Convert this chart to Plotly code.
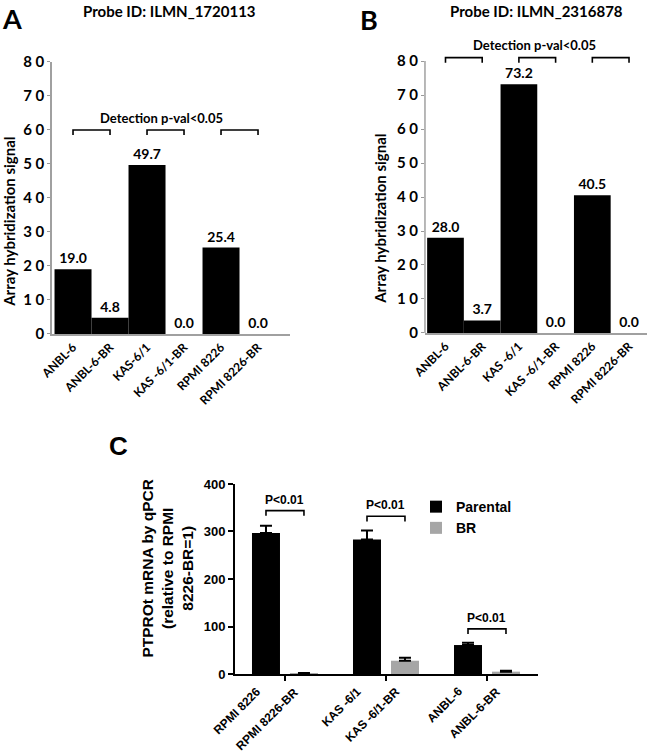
import plotly.graph_objects as go

# panel A / B: array hybridization signal
CELL_LINES_A = ["ANBL-6", "ANBL-6-BR", "KAS-6/1", "KAS -6/1-BR", "RPMI 8226", "RPMI 8226-BR"]
CELL_LINES_B = ["ANBL-6", "ANBL-6-BR", "KAS -6/1", "KAS -6/1-BR", "RPMI 8226", "RPMI 8226-BR"]
SIGNAL_A = [19.0, 4.8, 49.7, 0.0, 25.4, 0.0]
SIGNAL_B = [28.0, 3.7, 73.2, 0.0, 40.5, 0.0]
SIGNAL_TICKS = [0, 10, 20, 30, 40, 50, 60, 70, 80]
BRACKET_PAIRS = [(0, 1), (2, 3), (4, 5)]
BRACKET_Y_A = 60
BRACKET_Y_B = 81

# panel C: qPCR
GROUPS_C = ["RPMI 8226", "KAS -6/1", "ANBL-6"]
BR_LABELS_C = ["RPMI 8226-BR", "KAS -6/1-BR", "ANBL-6-BR"]
PARENTAL_C = [297, 283, 61]
PARENTAL_ERR_C = [15, 19, 5]
BR_C = [1, 28, 5]
BR_ERR_C = [1, 6, 2]
PCR_TICKS = [0, 100, 200, 300, 400]
PVAL_Y_C = [344, 332, 95]

BARGAP = 0.248
FONT_AB = "Lato"
FONT_C = "Liberation Sans"
GREY = "#a6a6a6"


def spaced(v):
    return " ".join(str(v))


fig = go.Figure()

for axis_id, labels, values in (("", CELL_LINES_A, SIGNAL_A), ("2", CELL_LINES_B, SIGNAL_B)):
    fig.add_trace(go.Bar(
        x=labels, y=values, xaxis="x" + axis_id, yaxis="y" + axis_id,
        width=1, marker={"color": "#000000", "line": {"width": 0}},
        texttemplate="<b>%{y:.1f}</b>", textposition="outside", cliponaxis=False,
        textfont={"family": FONT_AB, "size": 14, "color": "#000000"},
        showlegend=False,
    ))

# detection brackets for A and B
for axis_id, labels, top in (("", CELL_LINES_A, BRACKET_Y_A), ("2", CELL_LINES_B, BRACKET_Y_B)):
    for i, j in BRACKET_PAIRS:
        fig.add_trace(go.Scatter(
            x=[labels[i], labels[i], labels[j], labels[j]],
            y=[top - 1.5, top, top, top - 1.5],
            xaxis="x" + axis_id, yaxis="y" + axis_id,
            mode="lines", line={"color": "#000000", "width": 1.6},
            showlegend=False, hoverinfo="skip", cliponaxis=False,
        ))

fig.add_trace(go.Bar(
    name="Parental", x=GROUPS_C, y=PARENTAL_C, xaxis="x3", yaxis="y3",
    marker={"color": "#000000", "line": {"width": 0}},
    error_y={"type": "data", "symmetric": False, "array": PARENTAL_ERR_C,
             "arrayminus": [0] * len(PARENTAL_C), "color": "#000000",
             "thickness": 2, "width": 6},
))
fig.add_trace(go.Bar(
    name="BR", x=GROUPS_C, y=BR_C, xaxis="x3", yaxis="y3",
    marker={"color": GREY, "line": {"width": 0}},
    error_y={"type": "data", "symmetric": False, "array": BR_ERR_C,
             "arrayminus": [0] * len(BR_C), "color": "#000000",
             "thickness": 2, "width": 6},
))

ab_y = {
    "tickvals": SIGNAL_TICKS, "ticktext": [spaced(v) for v in SIGNAL_TICKS],
    "tickfont": {"family": FONT_AB, "size": 15, "color": "#000000", "weight": "bold"},
    "ticks": "outside", "ticklen": 3, "tickcolor": "#999999",
    "showgrid": False, "zeroline": False,
}
ab_x = {
    "type": "category", "tickangle": -45, "ticks": "",
    "tickfont": {"family": FONT_AB, "size": 12, "color": "#000000", "weight": "bold"},
    "showline": True, "linecolor": "#a0a0a0", "linewidth": 1.5, "showgrid": False,
}

annotations = [
    {"text": "<b>A</b>", "x": 0.0, "y": 1.0, "font": {"size": 27}},
    {"text": "<b>B</b>", "x": 0.551, "y": 0.999, "font": {"size": 27}},
    {"text": "<b>C</b>", "x": 0.165, "y": 0.430, "font": {"size": 26, "family": FONT_C}},
    {"text": "<b>Probe ID: ILMN_1720113</b>", "x": 0.260, "y": 0.9854, "xanchor": "center",
     "yanchor": "middle", "font": {"size": 15}},
    {"text": "<b>Probe ID: ILMN_2316878</b>", "x": 0.826, "y": 0.9854, "xanchor": "center",
     "yanchor": "middle", "font": {"size": 15}},
    {"text": "<b>Detection p-val<0.05</b>", "x": 0.249, "y": 0.843, "xanchor": "center",
     "yanchor": "middle", "font": {"size": 13}},
    {"text": "<b>Detection p-val<0.05</b>", "x": 0.823, "y": 0.940, "xanchor": "center",
     "yanchor": "middle", "font": {"size": 13}},
    {"text": "<b>Array hybridization signal</b>", "x": 0.0138, "y": 0.705, "textangle": -90,
     "xanchor": "center", "yanchor": "middle", "font": {"size": 15}},
    {"text": "<b>Array hybridization signal</b>", "x": 0.5846, "y": 0.709, "textangle": -90,
     "xanchor": "center", "yanchor": "middle", "font": {"size": 15}},
    {"text": "<b>PTPROt mRNA by qPCR<br>(relative to RPMI<br>8226-BR=1)</b>", "x": 0.257,
     "y": 0.244, "textangle": -90, "xanchor": "center", "yanchor": "middle",
     "font": {"size": 15.5, "family": FONT_C}},
]
for a in annotations:
    a.setdefault("xref", "paper")
    a.setdefault("yref", "paper")
    a.setdefault("xanchor", "left")
    a.setdefault("yanchor", "top")
    a.setdefault("showarrow", False)
    a["font"] = {"family": FONT_AB, "color": "#000000", **a["font"]}

# panel C bar labels and p-value brackets
half = (1 - BARGAP) / 4
shapes = []
for k, group in enumerate(GROUPS_C):
    for label, dx in ((group, -half), (BR_LABELS_C[k], half)):
        annotations.append({
            "text": f"<b>{label}</b>", "xref": "x3", "yref": "y3", "x": k + dx, "y": 0,
            "yshift": -8, "xanchor": "right", "yanchor": "top", "textangle": -45,
            "showarrow": False, "font": {"family": FONT_C, "size": 12, "color": "#000000"},
        })
    top = PVAL_Y_C[k]
    shapes.append({
        "type": "path", "xref": "x3", "yref": "y3", "line": {"color": "#000000", "width": 1.6},
        "path": f"M{k - half},{top - 11} L{k - half},{top} L{k + half},{top} L{k + half},{top - 11}",
    })
    annotations.append({
        "text": "<b>P<0.01</b>", "xref": "x3", "yref": "y3", "x": k, "y": top,
        "yshift": 2, "xanchor": "center", "yanchor": "bottom", "showarrow": False,
        "font": {"family": FONT_C, "size": 12, "color": "#000000"},
    })

# y spine for B stops at 80 while the range leaves room for the brackets
shapes.append({
    "type": "line", "xref": "x2 domain", "yref": "y2", "x0": 0, "x1": 0, "y0": 0,
    "y1": SIGNAL_TICKS[-1], "line": {"color": "#a0a0a0", "width": 1.5},
})

fig.update_layout(
    width=650,
    height=752,
    margin={"l": 0, "r": 0, "t": 0, "b": 0, "pad": 0, "autoexpand": False},
    paper_bgcolor="#ffffff",
    plot_bgcolor="#ffffff",
    barmode="group",
    bargap=BARGAP,
    bargroupgap=0.263,
    xaxis={**ab_x, "domain": [0.08, 0.4462], "range": [-0.568, 5.865], "anchor": "y"},
    yaxis={**ab_y, "domain": [0.5559, 0.9176], "range": [0, 80], "anchor": "x",
           "showline": True, "linecolor": "#a0a0a0", "linewidth": 1.5},
    xaxis2={**ab_x, "domain": [0.6538, 0.9954], "range": [-0.559, 5.49], "anchor": "y2"},
    yaxis2={**ab_y, "domain": [0.5572, 0.9324], "range": [0, 83], "anchor": "x2",
            "showline": False},
    xaxis3={
        "type": "category", "domain": [0.3615, 0.8277], "range": [-0.495, 2.505],
        "anchor": "y3", "showticklabels": False, "ticks": "outside", "ticklen": 5,
        "tickwidth": 2, "tickcolor": "#000000", "showline": True, "linecolor": "#000000",
        "linewidth": 2, "showgrid": False,
    },
    yaxis3={
        "domain": [0.1037, 0.3564], "range": [0, 400], "anchor": "x3",
        "tickvals": PCR_TICKS, "ticks": "outside", "ticklen": 5, "tickwidth": 2,
        "tickcolor": "#000000", "showline": True, "linecolor": "#000000", "linewidth": 2,
        "showgrid": False, "zeroline": False,
        "tickfont": {"family": FONT_C, "size": 13, "color": "#000000", "weight": "bold"},
    },
    legend={
        "x": 0.640, "y": 0.347, "xanchor": "left", "yanchor": "top",
        "font": {"family": FONT_C, "size": 14, "color": "#000000", "weight": "bold"},
        "bgcolor": "rgba(0,0,0,0)", "tracegroupgap": 4,
    },
    annotations=annotations,
    shapes=shapes,
)

# the page's default 8px body margin would push the figure off the window
fig.write_html(
    "out.html",
    config={"displayModeBar": False},
    post_script="document.body.style.margin = '0';",
)
